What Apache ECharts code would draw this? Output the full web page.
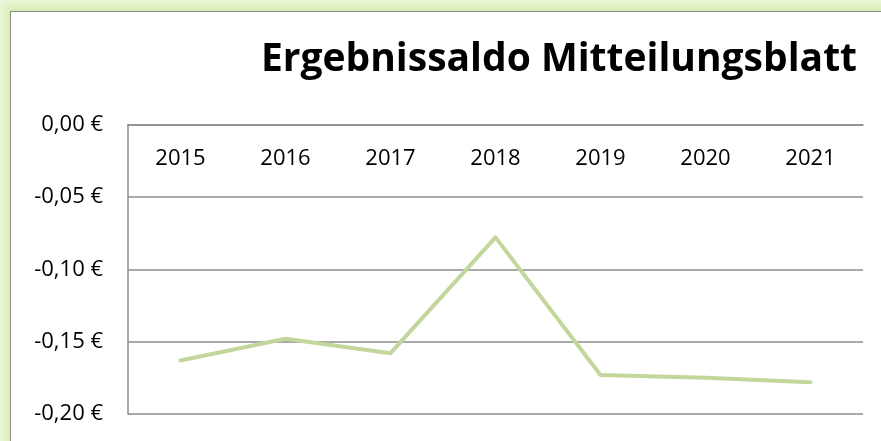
<!DOCTYPE html>
<html>
<head>
<meta charset="utf-8">
<script src="https://cdn.jsdelivr.net/npm/echarts@6/dist/echarts.min.js"></script>
<style>
html,body{margin:0;padding:0;background:#eaf6d8;overflow:hidden;width:881px;height:441px;}
#frame{position:absolute;left:10px;top:11px;width:920px;height:500px;background:#fff;border:1.5px solid #8c8c8c;box-shadow:0 0 8px 4px #d3eeab;}
#chart{position:absolute;left:0;top:0;width:881px;height:441px;}
</style>
</head>
<body>
<div id="frame"></div>
<div id="chart"></div>
<script>
const titleText = 'Ergebnissaldo Mitteilungsblatt';
const categories = ['2015','2016','2017','2018','2019','2020','2021'];
const values = [-0.163, -0.148, -0.158, -0.078, -0.173, -0.175, -0.178];
const yMin = -0.2, yMax = 0, yStep = 0.05;

const chart = echarts.init(document.getElementById('chart'), null, {renderer:'canvas'});
chart.setOption({
  animation:false,
  backgroundColor:'transparent',
  title:{
    text:titleText,
    right:19,
    top:35,
    textStyle:{fontFamily:'Open Sans',fontWeight:'bold',fontSize:39,color:'#000'}
  },
  grid:{left:128,right:18,top:124.5,bottom:27,containLabel:false},
  xAxis:{
    type:'category',
    position:'top',
    data:categories,
    boundaryGap:true,
    axisLine:{show:true,onZero:false,lineStyle:{color:'#8c8c8c',width:1.5}},
    axisTick:{show:false},
    axisLabel:{inside:true,margin:23,fontFamily:'Open Sans',fontSize:22,color:'#000'}
  },
  yAxis:{
    type:'value',
    min:yMin,max:yMax,interval:yStep,
    axisLine:{show:true,lineStyle:{color:'#8c8c8c',width:1.5}},
    axisTick:{show:false},
    splitLine:{show:true,lineStyle:{color:'#8c8c8c',width:1.5}},
    axisLabel:{margin:25,fontFamily:'Open Sans',fontSize:22,color:'#000',
      formatter:v=>v.toFixed(2).replace('.',',')+' €'}
  },
  series:[{
    type:'line',
    data:values,
    symbol:'none',
    lineStyle:{color:'#c3d69b',width:4,cap:'round',join:'round'}
  }]
});
</script>
</body>
</html>
